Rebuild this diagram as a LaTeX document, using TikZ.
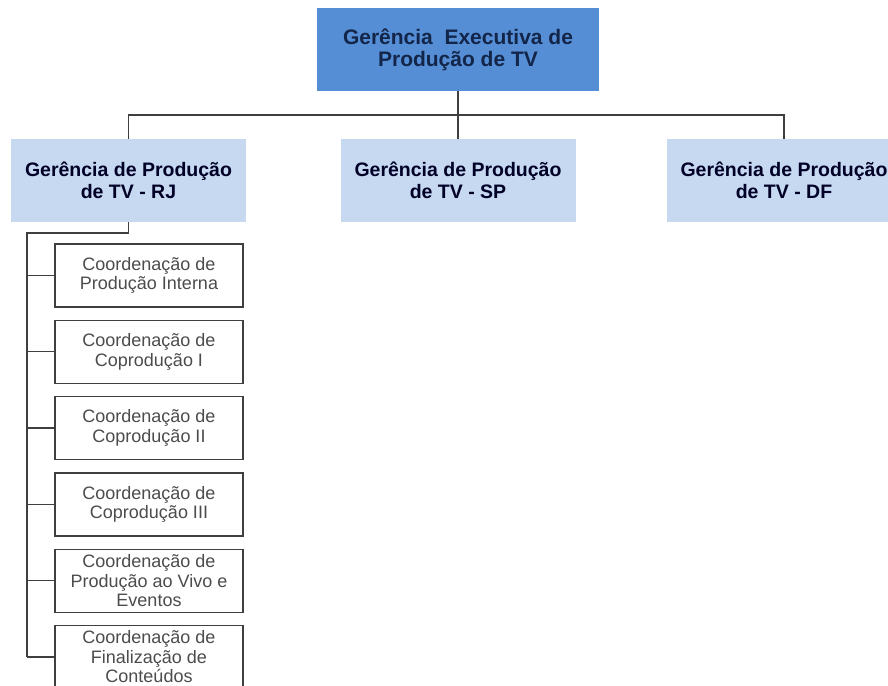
\documentclass[tikz,border=0pt]{standalone}
\usepackage{fontspec}
\setmainfont{Liberation Sans}
\usepackage{tikz}
\definecolor{topblue}{HTML}{558ED5}
\definecolor{lightblue}{HTML}{C6D9F1}
\definecolor{navytext}{HTML}{13264A}
\definecolor{linegray}{HTML}{3F3F3F}
\begin{document}
\begin{tikzpicture}[x=1pt,y=-1pt,
    nodes={align=center,inner sep=0pt},
    gerexec/.style={fill=topblue,minimum width=282pt,minimum height=83pt,
      text=navytext,font=\fontsize{21}{22}\selectfont\bfseries},
    gerencia/.style={fill=lightblue,minimum width=235pt,minimum height=83pt,
      text=black!85!blue,font=\fontsize{19.5}{22}\selectfont\bfseries},
    coord/.style={draw=linegray,line width=1.3pt,fill=white,minimum width=188pt,minimum height=63pt,
      text=black!70,font=\fontsize{18}{19.5}\selectfont},
    conn/.style={draw=linegray,line width=1.3pt}]
  \useasboundingbox (0,0) rectangle (888,685);
  \node[gerexec] (exec) at (458,49.5) {Ger\^encia\ \ Executiva de\\Produ\c{c}\~ao de TV};
  \node[gerencia] (rj) at (128.5,180.5) {Ger\^encia de Produ\c{c}\~ao\\de TV - RJ};
  \node[gerencia] (sp) at (458,180.5) {Ger\^encia de Produ\c{c}\~ao\\de TV - SP};
  \node[gerencia] (df) at (784,180.5) {Ger\^encia de Produ\c{c}\~ao\\de TV - DF};
  \coordinate (bar) at (458,115);
  \draw[conn] (exec.south) -- (sp.north);
  \draw[conn] (rj.north) |- (bar) -| (df.north);
  \foreach \i/\txt in {1/{Coordena\c{c}\~ao de\\Produ\c{c}\~ao Interna},
                       2/{Coordena\c{c}\~ao de\\Coprodu\c{c}\~ao I},
                       3/{Coordena\c{c}\~ao de\\Coprodu\c{c}\~ao II},
                       4/{Coordena\c{c}\~ao de\\Coprodu\c{c}\~ao III},
                       5/{Coordena\c{c}\~ao de\\Produ\c{c}\~ao ao Vivo e\\Eventos},
                       6/{Coordena\c{c}\~ao de\\Finaliza\c{c}\~ao de\\Conte\'udos}}
    \node[coord] (c\i) at (149,199.2+76.3*\i) {\txt};
  \coordinate (bus) at (27,233);
  \draw[conn] (rj.south) -- (rj.south |- bus) -- (bus) -- (bus |- c6.west);
  \foreach \i in {1,...,6}
    \draw[conn] (bus |- c\i.west) -- (c\i.west);
\end{tikzpicture}
\end{document}
